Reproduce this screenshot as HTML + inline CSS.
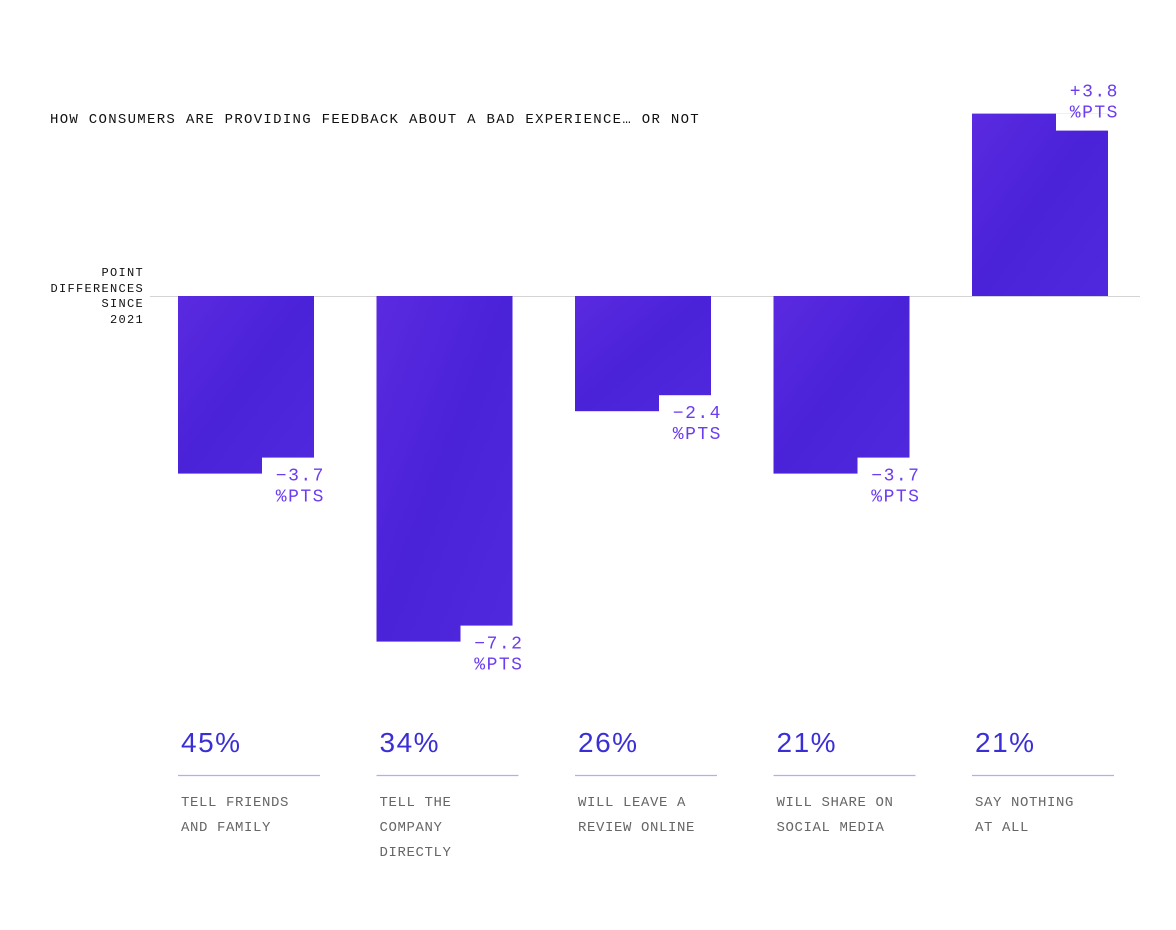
<!DOCTYPE html>
<html><head><meta charset="utf-8"><style>
html,body{margin:0;padding:0;background:#fff;width:1176px;height:930px;overflow:hidden}
svg{display:block}
text{font-family:"Liberation Mono",monospace}
</style></head><body>
<svg id="chart" width="1176" height="930" viewBox="0 0 1176 930" xmlns="http://www.w3.org/2000/svg">
<defs>
<linearGradient id="barGrad" x1="0" y1="0" x2="1" y2="1">
<stop offset="0" stop-color="#5a2ae0"/>
<stop offset="0.5" stop-color="#4a22d8"/>
<stop offset="1" stop-color="#5028de"/>
</linearGradient>
</defs>
<text x="50" y="123" font-size="14" letter-spacing="1.3" fill="#111">HOW CONSUMERS ARE PROVIDING FEEDBACK ABOUT A BAD EXPERIENCE… OR NOT</text>
<g font-size="12" letter-spacing="1.3" fill="#111" text-anchor="end">
<text x="144" y="276">POINT</text>
<text x="144" y="292">DIFFERENCES</text>
<text x="144" y="307">SINCE</text>
<text x="144" y="323">2021</text>
</g>
<line x1="150" y1="296.5" x2="1140" y2="296.5" stroke="#d4d4d4" stroke-width="1"/>
<g id="bars"></g>
<g id="labels"></g>
</svg>
<script>
const categories = ["TELL FRIENDS|AND FAMILY", "TELL THE|COMPANY|DIRECTLY", "WILL LEAVE A|REVIEW ONLINE", "WILL SHARE ON|SOCIAL MEDIA", "SAY NOTHING|AT ALL"];
const shares = [45, 34, 26, 21, 21];
const changes = [-3.7, -7.2, -2.4, -3.7, 3.8];
const changeLabels = ["\u22123.7", "\u22127.2", "\u22122.4", "\u22123.7", "+3.8"];

const NS = "http://www.w3.org/2000/svg";
const zeroY = 296;
const unit = 48;
const yScale = v => zeroY - v * unit;
const xScale = i => 178 + i * 198.5;
const barW = 136;
const bars = document.getElementById('bars');
const labels = document.getElementById('labels');

function mk(tag, attrs, parent) {
  const e = document.createElementNS(NS, tag);
  for (const k in attrs) e.setAttribute(k, attrs[k]);
  parent.appendChild(e);
  return e;
}

changes.forEach((v, i) => {
  const x = xScale(i);
  const y0 = Math.min(yScale(v), zeroY);
  const h = Math.abs(yScale(v) - zeroY);
  const r = mk('rect', {x: x, y: y0, width: barW, height: h, fill: 'url(#barGrad)'}, bars);
  
  
  const nx = x + barW - 52;
  let notchY, t1, t2;
  if (v < 0) {
    const b = yScale(v);
    notchY = b - 16;
    t1 = b + 7; t2 = b + 28;
  } else {
    const t = yScale(v);
    notchY = t;
    t1 = t - 17; t2 = t + 4;
  }
  const n = mk('rect', {x: nx, y: notchY, width: 60, height: 17, fill: '#fff'}, bars);
  
  
  const a = mk('text', {x: x + barW + 11, y: t1, 'font-size': 18, 'letter-spacing': 1.5, fill: '#6b3cf0', 'text-anchor': 'end'}, labels);
  a.textContent = changeLabels[i];
  
  
  const p = mk('text', {x: x + barW + 11, y: t2, 'font-size': 18, 'letter-spacing': 1.5, fill: '#6b3cf0', 'text-anchor': 'end'}, labels);
  p.textContent = "%PTS";
  
  

  const s = mk('text', {x: x + 3, y: 752, 'font-size': 28, 'letter-spacing': 1.5, fill: '#3a2fd6', style: 'font-family:"Liberation Sans",sans-serif'}, labels);
  s.textContent = shares[i] + "%";
  
  
  const l = mk('line', {x1: x, y1: 775.5, x2: x + 142, y2: 775.5, stroke: '#b7acf2', 'stroke-width': 1.3}, labels);
  
  
  categories[i].split('|').forEach((line, j) => {
    const c = mk('text', {x: x + 3, y: 806 + j * 25, 'font-size': 14, 'letter-spacing': 0.6, fill: '#666'}, labels);
    c.textContent = line;
    
    
  });
});
</script>
</body></html>
